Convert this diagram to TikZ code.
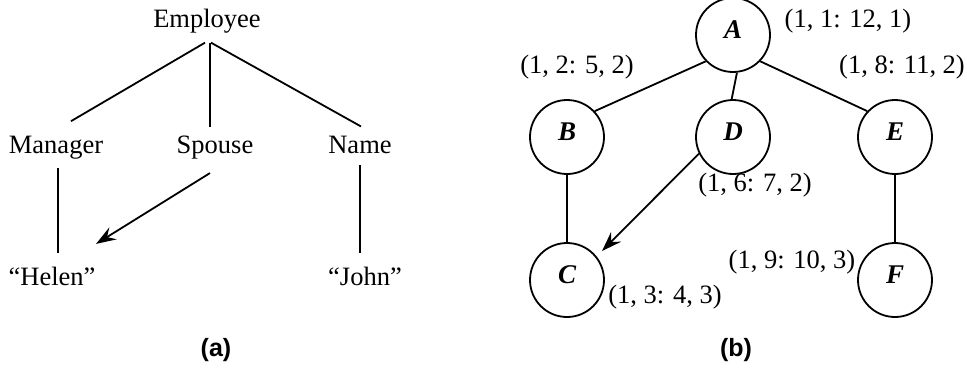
\documentclass[tikz,border=0pt]{standalone}
\usepackage{fontspec}
\setmainfont{Liberation Serif}
\newfontfamily\capfont{Liberation Sans}
\usetikzlibrary{arrows.meta,calc}
\begin{document}
\begin{tikzpicture}[x=1pt,y=-1pt,
  every node/.style={inner sep=0pt,font=\fontsize{26.5}{30}\selectfont},
  word/.style={anchor=base},
  vtx/.style={circle,draw,line width=1.8pt,minimum size=74pt,
    font=\fontsize{27}{30}\selectfont\bfseries\itshape},
  link/.style={line width=1.8pt},
  ptr/.style={line width=1.8pt,-{Stealth[length=20pt,width=14pt,inset=7pt]}},
  caption/.style={anchor=base,font=\fontsize{25}{30}\selectfont\capfont\bfseries}]
\useasboundingbox (0,0) rectangle (967,370);

% (a) object graph
\node[word] (emp) at (207,27) {Employee};
\node[word] (mgr) at (56,153) {Manager};
\node[word] (sps) at (215,153) {Spouse};
\node[word] (nam) at (360,153) {Name};
\node[word] (hel) at (52,285) {“Helen”};
\node[word] (joh) at (365,285) {“John”};
\draw[link] ($(emp)+(-2,22)$) -- ($(mgr)+(15,-26)$);
\draw[link] ($(emp)+(3,22)$) -- ($(sps)+(-5,-20)$);
\draw[link] ($(emp)+(4,22)$) -- ($(nam)+(1,-18)$);
\draw[link] ($(mgr)+(2,21)$) -- ($(hel)+(6,-23)$);
\draw[link] ($(nam)+(0,21)$) -- ($(joh)+(-5,-23)$);
\draw[ptr] ($(sps)+(-5,26)$) -- ($(hel)+(44,-32)$);
\node[caption] (capa) at (216,356) {(a)};

% (b) labelled tree (letters sit a little above the circle centre)
\node[vtx] (A) at (733,35) {\raisebox{11pt}{A}};
\node[vtx] (B) at (567,137) {\raisebox{11pt}{B}};
\node[vtx] (D) at (733,137) {\raisebox{11pt}{D}};
\node[vtx] (E) at (895,137) {\raisebox{11pt}{E}};
\node[vtx] (C) at (567,280) {\raisebox{11pt}{C}};
\node[vtx] (F) at (895,280) {\raisebox{11pt}{F}};
\draw[link] (A.224) -- (B.43);
\draw[link] (A.276) -- (D.92);
\draw[link] (A.316) -- (E.137);
\draw[link] (B.south) -- (C.north);
\draw[link] (E.south) -- (F.north);
\draw[ptr] (D.206) -- ($(C)+(35,-29)$);

\node (lA) at (848,21) {(1, 1: 12, 1)};
\node (lB) at (577,67) {(1, 2: 5, 2)};
\node (lE) at (902,67) {(1, 8: 11, 2)};
\node (lD) at (755,185) {(1, 6: 7, 2)};
\node (lC) at (665,297) {(1, 3: 4, 3)};
\node (lF) at (792,262) {(1, 9: 10, 3)};
\node[caption] (capb) at (736,356) {(b)};
\end{tikzpicture}
\end{document}
